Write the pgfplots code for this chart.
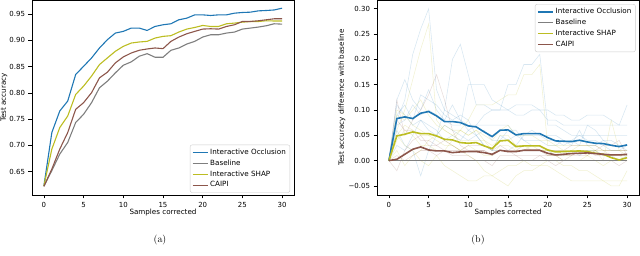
\documentclass[border=0pt]{standalone}
\usepackage{fontspec}
\setmainfont{DejaVu Sans}
\newfontfamily\lmr{Latin Modern Roman}
\usepackage{pgfplots}
\usepackage{pgfplotstable}
\pgfplotsset{compat=1.18}
\definecolor{tblue}{HTML}{1F77B4}
\definecolor{tgray}{HTML}{7F7F7F}
\definecolor{tolive}{HTML}{BCBD22}
\definecolor{tbrown}{HTML}{8C564B}

\pgfplotstableread{
x occ base shap caipi
0 0.623 0.622 0.623 0.622
1 0.7245 0.652 0.693 0.655
2 0.7656 0.6835 0.734 0.693
3 0.7845 0.7056 0.756 0.7245
4 0.835 0.7435 0.797 0.7687
5 0.8507 0.7593 0.813 0.7814
6 0.8665 0.7814 0.832 0.8003
7 0.8856 0.8098 0.854 0.8287
8 0.9014 0.8224 0.8667 0.8395
9 0.914 0.8382 0.8793 0.8572
10 0.9172 0.8527 0.8887 0.8685
11 0.9235 0.8591 0.895 0.876
12 0.9235 0.8698 0.897 0.8812
13 0.919 0.8748 0.8982 0.8837
14 0.9266 0.8679 0.9045 0.8856
15 0.9298 0.8679 0.9077 0.8843
16 0.9317 0.8812 0.909 0.8982
17 0.9393 0.8856 0.916 0.9064
18 0.9424 0.8932 0.9216 0.9127
19 0.9487 0.8982 0.9247 0.9172
20 0.9487 0.9064 0.9285 0.9216
21 0.9475 0.9108 0.9266 0.9222
22 0.9487 0.9108 0.9266 0.9216
23 0.9487 0.914 0.9317 0.9266
24 0.9519 0.9159 0.933 0.9298
25 0.9532 0.9216 0.9348 0.9361
26 0.9538 0.9235 0.936 0.9361
27 0.9563 0.9254 0.936 0.9374
28 0.957 0.9279 0.9374 0.9393
29 0.958 0.9317 0.9370 0.9412
30 0.9614 0.931 0.937 0.9412
}\lefttab

\pgfplotstableread{
x occ base shap caipi
0 0 0 0 0
1 0.0831 0 0.0488 0.0026
2 0.0864 0 0.0521 0.0125
3 0.0831 0 0.0567 0.0224
4 0.0937 0 0.0534 0.0270
5 0.0970 0 0.0534 0.0211
6 0.0884 0 0.0488 0.0191
7 0.0772 0 0.0422 0.0191
8 0.0772 0 0.0409 0.0158
9 0.0752 0 0.0356 0.0172
10 0.0686 0 0.0343 0.0178
11 0.0666 0 0.0356 0.0178
12 0.0567 0 0.0290 0.0158
13 0.0475 0 0.0237 0.0125
14 0.0600 0 0.0389 0.0204
15 0.0607 0 0.0402 0.0178
16 0.0508 0 0.0277 0.0178
17 0.0534 0 0.0290 0.0204
18 0.0534 0 0.0290 0.0204
19 0.0534 0 0.0290 0.0204
20 0.0455 0 0.0211 0.0145
21 0.0389 0 0.0172 0.0112
22 0.0383 0 0.0178 0.0125
23 0.0376 0 0.0185 0.0139
24 0.0402 0 0.0191 0.0145
25 0.0369 0 0.0178 0.0152
26 0.0343 0 0.0145 0.0139
27 0.0336 0 0.0125 0.0125
28 0.0303 0 0.0059 0.0112
29 0.0277 0 0.0013 0.0112
30 0.0310 0 0.0059 0.0125
}\righttab

\pgfplotstableread{
x b1 b2 b3 b4 b5 b6 b7 y1 y2 y3 y4 y5 y6 y7 c1 c2 c3 c4
0 0 0 0 0 0 0 0 0 0 0 0 0 0 0 0 0 0 0
1 0.08 0.11 0.12 0.03 0.06 0.09 0.07 0.06 0.04 0.05 0.09 0.02 0.05 0.10 0.12 -0.02 0.01 0.08
2 0.12 0.09 0.16 0.02 0.03 0.11 0.08 0.10 0.06 0.03 0.08 -0.01 0.07 0.09 0.05 0.02 0.00 0.06
3 0.21 0.07 0.12 0.05 0.02 0.08 0.11 0.16 0.05 0.02 0.10 0.01 0.06 0.07 0.08 0.04 0.01 0.06
4 0.26 0.08 0.10 0.08 -0.03 0.13 0.09 0.22 0.03 0.00 0.12 0.02 0.05 0.06 0.10 0.05 0.02 0.04
5 0.30 0.06 0.14 0.07 0.02 0.12 0.10 0.27 0.03 -0.01 0.09 0.04 0.05 0.05 0.13 0.03 0.02 0.04
6 0.14 0.05 0.10 0.06 0.05 0.11 0.09 0.08 0.02 0.01 0.07 0.05 0.04 0.05 0.17 0.03 0.01 0.03
7 0.10 0.10 0.08 0.04 0.07 0.09 0.08 0.06 0.02 -0.01 0.06 0.04 0.03 0.07 0.12 0.02 0.02 0.04
8 0.09 0.20 0.07 0.05 0.06 0.08 0.11 0.05 0.04 -0.02 0.05 0.03 0.03 0.06 0.06 0.02 0.01 0.03
9 0.08 0.23 0.07 0.04 0.05 0.09 0.08 0.04 0.06 -0.03 0.06 0.02 0.02 0.06 0.03 0.02 0.01 0.02
10 0.07 0.17 0.15 0.06 0.04 0.08 0.06 0.04 0.08 -0.04 0.05 0.01 0.03 0.05 0.02 0.03 0.01 0.02
11 0.07 0.11 0.15 0.07 0.05 0.05 0.05 0.04 0.11 -0.04 0.06 0.00 0.02 0.06 0.02 0.03 0.00 0.02
12 0.07 0.11 0.15 0.09 0.03 0.06 0.03 0.04 0.11 -0.03 0.05 -0.02 0.01 0.04 0.02 0.03 0.00 0.02
13 0.07 0.10 0.12 0.10 0.02 0.04 0.02 0.03 0.11 -0.03 0.04 -0.03 0.01 0.02 0.01 0.02 -0.01 0.01
14 0.07 0.10 0.11 0.10 0.05 0.04 0.02 0.04 0.12 -0.02 0.06 -0.04 0.03 0.05 0.02 0.03 0.01 0.02
15 0.07 0.10 0.10 0.15 0.04 0.06 0.02 0.04 0.13 -0.01 0.07 -0.05 0.03 0.05 0.02 0.02 0.01 0.02
16 0.05 0.09 0.11 0.15 0.05 0.06 0.03 0.03 0.13 -0.01 0.05 -0.03 0.02 0.03 0.02 0.02 0.01 0.01
17 0.05 0.09 0.11 0.19 0.04 0.04 0.05 0.03 0.17 0.00 0.05 -0.02 0.02 0.03 0.02 0.03 0.00 0.01
18 0.05 0.10 0.11 0.19 0.03 0.04 0.06 0.03 0.17 -0.01 0.05 -0.02 0.03 0.02 0.02 0.03 0.00 0.01
19 0.05 0.10 0.10 0.21 0.03 0.04 0.05 0.02 0.19 -0.01 0.04 -0.01 0.03 0.02 0.02 0.03 0.01 0.01
20 0.05 0.10 0.08 0.07 0.02 0.03 0.04 0.02 0.03 0.00 0.04 -0.01 0.01 0.02 0.01 0.02 0.00 0.01
21 0.05 0.09 0.08 0.07 0.01 0.03 0.04 0.02 0.03 0.00 0.03 -0.02 0.01 0.01 0.01 0.02 -0.01 0.01
22 0.04 0.09 0.07 0.06 0.01 0.04 0.03 0.02 0.02 -0.01 0.03 -0.03 0.01 0.00 0.01 0.02 0.00 0.00
23 0.04 0.08 0.07 0.05 0.02 0.03 0.04 0.02 0.02 -0.01 0.03 -0.04 0.01 0.00 0.01 0.03 0.00 0.01
24 0.05 0.08 0.07 0.05 0.01 0.06 0.03 0.02 0.03 -0.02 0.03 -0.04 0.02 0.00 0.02 0.03 0.00 0.01
25 0.05 0.09 0.07 0.04 0.02 0.03 0.07 0.02 0.03 -0.02 0.03 -0.04 0.01 0.01 0.02 0.03 0.00 0.01
26 0.05 0.09 0.07 0.04 0.02 0.03 0.06 0.02 0.02 -0.03 0.03 -0.04 0.00 0.02 0.01 0.03 0.00 0.02
27 0.05 0.09 0.07 0.03 0.01 0.04 0.04 0.01 0.02 -0.04 0.02 -0.04 -0.01 0.00 0.01 0.02 0.00 0.03
28 0.05 0.08 0.07 0.02 0.01 0.03 0.04 0.01 0.01 -0.05 0.02 -0.04 0.00 0.08 0.01 0.02 0.00 0.03
29 0.05 0.07 0.07 0.02 0.00 0.03 0.03 0.01 0.01 -0.05 0.02 -0.04 0.00 0.02 0.01 0.02 -0.01 0.04
30 0.05 0.11 0.07 0.03 0.01 0.02 0.03 0.01 0.00 -0.02 0.02 -0.04 0.00 0.01 0.01 0.02 0.00 0.01
}\fainttab

\pgfplotsset{
  myax/.style={
    scale only axis, width=262bp, height=195bp,
    xmin=-1.5, xmax=31.5,
    xtick={0,5,10,15,20,25,30},
    tick align=outside, major tick length=3.5bp,
    xtick pos=bottom, ytick pos=left,
    every tick/.style={black, line width=0.7bp},
    axis line style={line width=0.8bp},
    ticklabel style={font=\fontsize{7}{8}\selectfont},
    label style={font=\fontsize{7.2}{8}\selectfont},
    /pgf/number format/assume math mode=true,
    xlabel={Samples corrected},
    xlabel style={at={(axis description cs:0.5,-0.092)}, anchor=center},
    legend cell align=left,
    legend image code/.code={\draw[##1] (0bp,0bp) -- (15bp,0bp);},
    legend style={draw=black!20, fill=white, rounded corners=2bp,
      font=\fontsize{7.2}{8}\selectfont, inner xsep=2bp, inner ysep=2bp},
  },
  faintb/.style={tblue, line width=0.55bp, opacity=0.18, forget plot},
  fainty/.style={tolive, line width=0.55bp, opacity=0.2, forget plot},
  faintc/.style={tbrown, line width=0.55bp, opacity=0.2, forget plot},
}

\begin{document}
\begin{tikzpicture}
\path[use as bounding box] (0,0) rectangle (640bp,256bp);
\begin{axis}[myax, at={(32bp,61bp)}, anchor=south west,
  ymin=0.6055, ymax=0.977,
  ytick={0.65,0.70,0.75,0.80,0.85,0.90,0.95},
  yticklabels={0.65,0.70,0.75,0.80,0.85,0.90,0.95},
  ylabel={Test accuracy},
  ylabel style={at={(axis description cs:-0.107,0.5)}, anchor=center},
  legend style={at={(0.985,0.012)}, anchor=south east},
]
\addplot[color=tblue, line width=1.1bp] table[x=x, y=occ] {\lefttab};
\addlegendentry{Interactive Occlusion}
\addplot[color=tgray, line width=1.1bp] table[x=x, y=base] {\lefttab};
\addlegendentry{Baseline}
\addplot[color=tolive, line width=1.1bp] table[x=x, y=shap] {\lefttab};
\addlegendentry{Interactive SHAP}
\addplot[color=tbrown, line width=1.1bp] table[x=x, y=caipi] {\lefttab};
\addlegendentry{CAIPI}
\end{axis}

\begin{axis}[myax, at={(377bp,61bp)}, anchor=south west,
  ymin=-0.068, ymax=0.3175,
  ytick={-0.05,0,0.05,0.10,0.15,0.20,0.25,0.30},
  yticklabels={−0.05,0.00,0.05,0.10,0.15,0.20,0.25,0.30},
  ylabel={Test accuracy difference with baseline},
  ylabel style={at={(axis description cs:-0.134,0.5)}, anchor=center},
  legend style={at={(0.987,0.979)}, anchor=north east},
]
\addplot[faintb] table[x=x, y=b1] {\fainttab};
\addplot[faintb] table[x=x, y=b2] {\fainttab};
\addplot[faintb] table[x=x, y=b3] {\fainttab};
\addplot[faintb] table[x=x, y=b4] {\fainttab};
\addplot[faintb] table[x=x, y=b5] {\fainttab};
\addplot[faintb] table[x=x, y=b6] {\fainttab};
\addplot[faintb] table[x=x, y=b7] {\fainttab};
\addplot[fainty] table[x=x, y=y1] {\fainttab};
\addplot[fainty] table[x=x, y=y2] {\fainttab};
\addplot[fainty] table[x=x, y=y3] {\fainttab};
\addplot[fainty] table[x=x, y=y4] {\fainttab};
\addplot[fainty] table[x=x, y=y5] {\fainttab};
\addplot[fainty] table[x=x, y=y6] {\fainttab};
\addplot[fainty] table[x=x, y=y7] {\fainttab};
\addplot[faintc] table[x=x, y=c1] {\fainttab};
\addplot[faintc] table[x=x, y=c2] {\fainttab};
\addplot[faintc] table[x=x, y=c3] {\fainttab};
\addplot[faintc] table[x=x, y=c4] {\fainttab};
\addplot[color=tblue, line width=1.6bp] table[x=x, y=occ] {\righttab};
\addlegendentry{Interactive Occlusion}
\addplot[color=tgray, line width=1.6bp] table[x=x, y=base] {\righttab};
\addlegendentry{Baseline}
\addplot[color=tolive, line width=1.6bp] table[x=x, y=shap] {\righttab};
\addlegendentry{Interactive SHAP}
\addplot[color=tbrown, line width=1.6bp] table[x=x, y=caipi] {\righttab};
\addlegendentry{CAIPI}
\end{axis}

\node[font=\lmr\fontsize{10}{12}\selectfont] at (160bp,16bp) {(a)};
\node[font=\lmr\fontsize{10}{12}\selectfont] at (478bp,16bp) {(b)};
\end{tikzpicture}
\end{document}
